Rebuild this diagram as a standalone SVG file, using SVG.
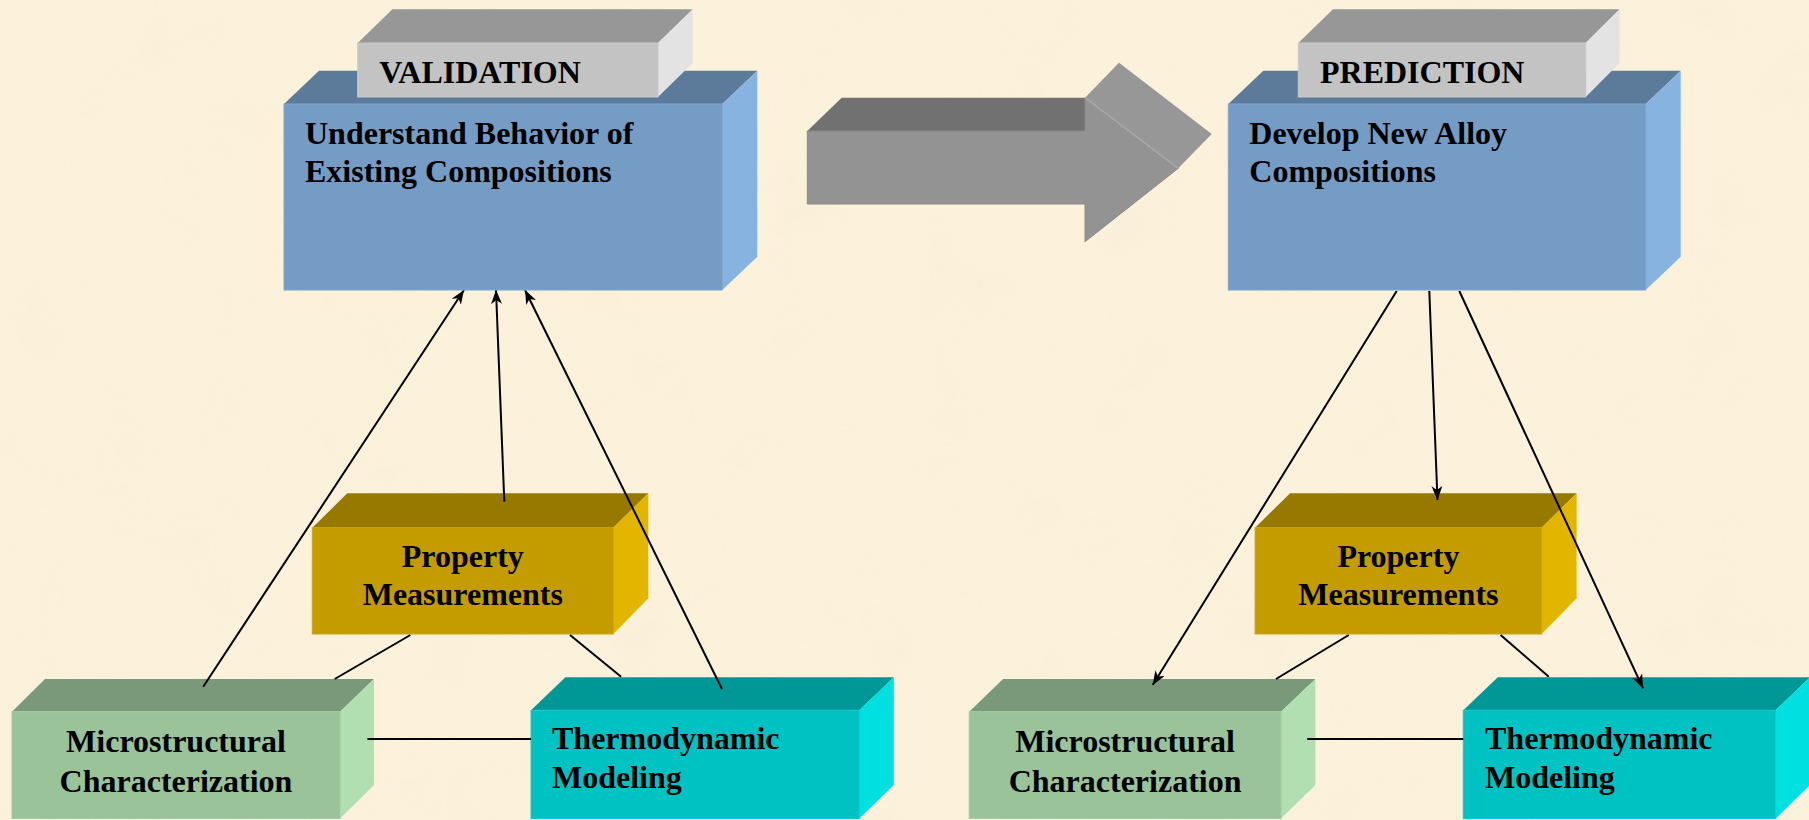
<svg xmlns="http://www.w3.org/2000/svg" width="1809" height="820" viewBox="0 0 1809 820">
<defs>
<style>
.t{font-family:"Liberation Serif","Times New Roman",serif;font-weight:bold;font-size:32px;fill:#000}
.c{text-anchor:middle}
.ln{stroke:#000;stroke-width:2;fill:none}
.ar{marker-end:url(#ah)}
.bf{fill:#759CC5;stroke:#7FA6CE;stroke-width:1}
.bt{fill:#5C7B9B}
.br{fill:#87B3E1}
.gf{fill:#C3C3C3;stroke:#CACACA;stroke-width:1}
.gt{fill:#979797}
.gr{fill:#E3E3E3}
.pf{fill:#C49C00;stroke:#CBA410;stroke-width:1}
.pt{fill:#977900}
.pr{fill:#E2B500}
.mf{fill:#9BC39A;stroke:#A3CBA2;stroke-width:1}
.mt{fill:#7A997A}
.mr{fill:#B2DFB1}
.hf{fill:#00C2C2;stroke:#10CACA;stroke-width:1}
.ht{fill:#009797}
.hr{fill:#00E0E0}
</style>
<marker id="ah" viewBox="0 0 14 11" refX="14" refY="5.5" markerWidth="14" markerHeight="11" markerUnits="userSpaceOnUse" orient="auto">
<path d="M0,0 L14,5.5 L0,11 L4,5.5 Z" fill="#000"/>
</marker>
<filter id="tex" x="0" y="0" width="100%" height="100%">
<feTurbulence type="fractalNoise" baseFrequency="0.012" numOctaves="3" seed="4"/>
<feColorMatrix type="matrix" values="0 0 0 0 0.91  0 0 0 0 0.84  0 0 0 0 0.66  0 0 0 1.6 -0.75"/>
</filter>
</defs>
<rect width="1809" height="820" fill="#FCF1DA"/>
<rect width="1809" height="820" filter="url(#tex)" opacity="0.35"/>

<g id="prop-left">
<polygon class="pt" points="312.3,527.7 347.3,493.3 648.3,493.3 613.3,527.7"/>
<polygon class="pr" points="613.3,527.7 648.3,493.3 648.3,598.3 613.3,634"/>
<rect class="pf" x="312.3" y="527.7" width="301" height="106.3"/>
<text class="t c" x="462.8" y="567.3">Property</text>
<text class="t c" x="462.8" y="605">Measurements</text>
</g>
<g id="micro-left">
<polygon class="mt" points="12,711.7 45,679 374,679 340,711.7"/>
<polygon class="mr" points="340,711.7 374,679 374,785 340,818.5"/>
<rect class="mf" x="12" y="711.7" width="328" height="106.8"/>
<text class="t c" x="176" y="751.7">Microstructural</text>
<text class="t c" x="176" y="791.7">Characterization</text>
</g>
<g id="thermo-left">
<polygon class="ht" points="531,710.3 565.4,677.3 893.8,677.3 859.3,710.3"/>
<polygon class="hr" points="859.3,710.3 893.8,677.3 893.8,785 859.3,818.5"/>
<rect class="hf" x="531" y="710.3" width="328.3" height="108.2"/>
<text class="t" x="552" y="749.3">Thermodynamic</text>
<text class="t" x="552" y="788.3">Modeling</text>
</g>

<g id="prop-right">
<polygon class="pt" points="1255.1,527.7 1290.1,493.3 1576.6,493.3 1541.6,527.7"/>
<polygon class="pr" points="1541.6,527.7 1576.6,493.3 1576.6,598.3 1541.6,634"/>
<rect class="pf" x="1255.1" y="527.7" width="286.5" height="106.3"/>
<text class="t c" x="1398.4" y="567.3">Property</text>
<text class="t c" x="1398.4" y="605">Measurements</text>
</g>
<g id="micro-right">
<polygon class="mt" points="969.2,711.7 1003.1,679 1315.4,679 1281,711.7"/>
<polygon class="mr" points="1281,711.7 1315.4,679 1315.4,785 1281,818.5"/>
<rect class="mf" x="969.2" y="711.7" width="311.8" height="106.8"/>
<text class="t c" x="1125.1" y="751.7">Microstructural</text>
<text class="t c" x="1125.1" y="791.7">Characterization</text>
</g>
<g id="thermo-right">
<polygon class="ht" points="1463.3,710.3 1497.8,677.3 1810,677.3 1775.6,710.3"/>
<polygon class="hr" points="1775.6,710.3 1810,677.3 1810,785 1775.6,818.5"/>
<rect class="hf" x="1463.3" y="710.3" width="312.3" height="108.2"/>
<text class="t" x="1485" y="749.3">Thermodynamic</text>
<text class="t" x="1485" y="788.3">Modeling</text>
</g>

<g id="connectors">
<line class="ln ar" x1="203.2" y1="686.7" x2="464" y2="290"/>
<line class="ln ar" x1="504.3" y1="501.7" x2="496" y2="290"/>
<line class="ln ar" x1="722.1" y1="689.3" x2="525" y2="290"/>
<line class="ln" x1="410.4" y1="635" x2="334.7" y2="679"/>
<line class="ln" x1="570" y1="635" x2="621.1" y2="676.7"/>
<line class="ln" x1="367.4" y1="739" x2="531" y2="739"/>
<line class="ln ar" x1="1396.7" y1="291" x2="1152.7" y2="685"/>
<line class="ln ar" x1="1429.3" y1="291" x2="1437.5" y2="500"/>
<line class="ln ar" x1="1459.3" y1="291" x2="1643" y2="688.3"/>
<line class="ln" x1="1348.8" y1="635" x2="1276" y2="679"/>
<line class="ln" x1="1500.6" y1="635" x2="1548.8" y2="676.7"/>
<line class="ln" x1="1307.2" y1="739" x2="1463.3" y2="739"/>
</g>

<g id="understand">
<polygon class="bt" points="284,104 319,70.7 757.3,70.7 722.3,104"/>
<polygon class="br" points="722.3,104 757.3,70.7 757.3,256.7 722.3,290"/>
<rect class="bf" x="284" y="104" width="438.3" height="186"/>
<text class="t" x="305" y="144.3">Understand Behavior of</text>
<text class="t" x="305" y="181.7">Existing Compositions</text>
</g>
<g id="validation">
<polygon class="gt" points="357.7,43 392.4,9.3 692.7,9.3 658,43"/>
<polygon class="gr" points="658,43 692.7,9.3 692.7,63 658,97"/>
<rect class="gf" x="357.7" y="43" width="300.3" height="54"/>
<text class="t" x="379.3" y="82.7">VALIDATION</text>
</g>

<g id="develop">
<polygon class="bt" points="1228.3,104 1263.3,70.7 1680.7,70.7 1645.7,104"/>
<polygon class="br" points="1645.7,104 1680.7,70.7 1680.7,256.7 1645.7,290"/>
<rect class="bf" x="1228.3" y="104" width="417.4" height="186"/>
<text class="t" x="1249.3" y="144.3">Develop New Alloy</text>
<text class="t" x="1249.3" y="181.7">Compositions</text>
</g>
<g id="prediction">
<polygon class="gt" points="1298.3,43 1333,9.3 1619.6,9.3 1585.7,43"/>
<polygon class="gr" points="1585.7,43 1619.6,9.3 1619.6,63 1585.7,97"/>
<rect class="gf" x="1298.3" y="43" width="287.4" height="54"/>
<text class="t" x="1320" y="82.7">PREDICTION</text>
</g>

<g id="big-arrow">
<polygon fill="#717171" points="807.3,131 841.7,97.7 1085,97.7 1085,131"/>
<polygon fill="#979797" points="1085,97.7 1119,62.7 1211.7,134 1178.3,168.3"/>
<polygon fill="#939393" stroke="#8A8A8A" stroke-width="1" points="807.3,131 1085,131 1085,97.7 1178.3,168.3 1085,241.7 1085,204 807.3,204"/>
<line x1="1085" y1="97.7" x2="1178.3" y2="168.3" stroke="#A8A8A8" stroke-width="1.5"/>
</g>
</svg>
